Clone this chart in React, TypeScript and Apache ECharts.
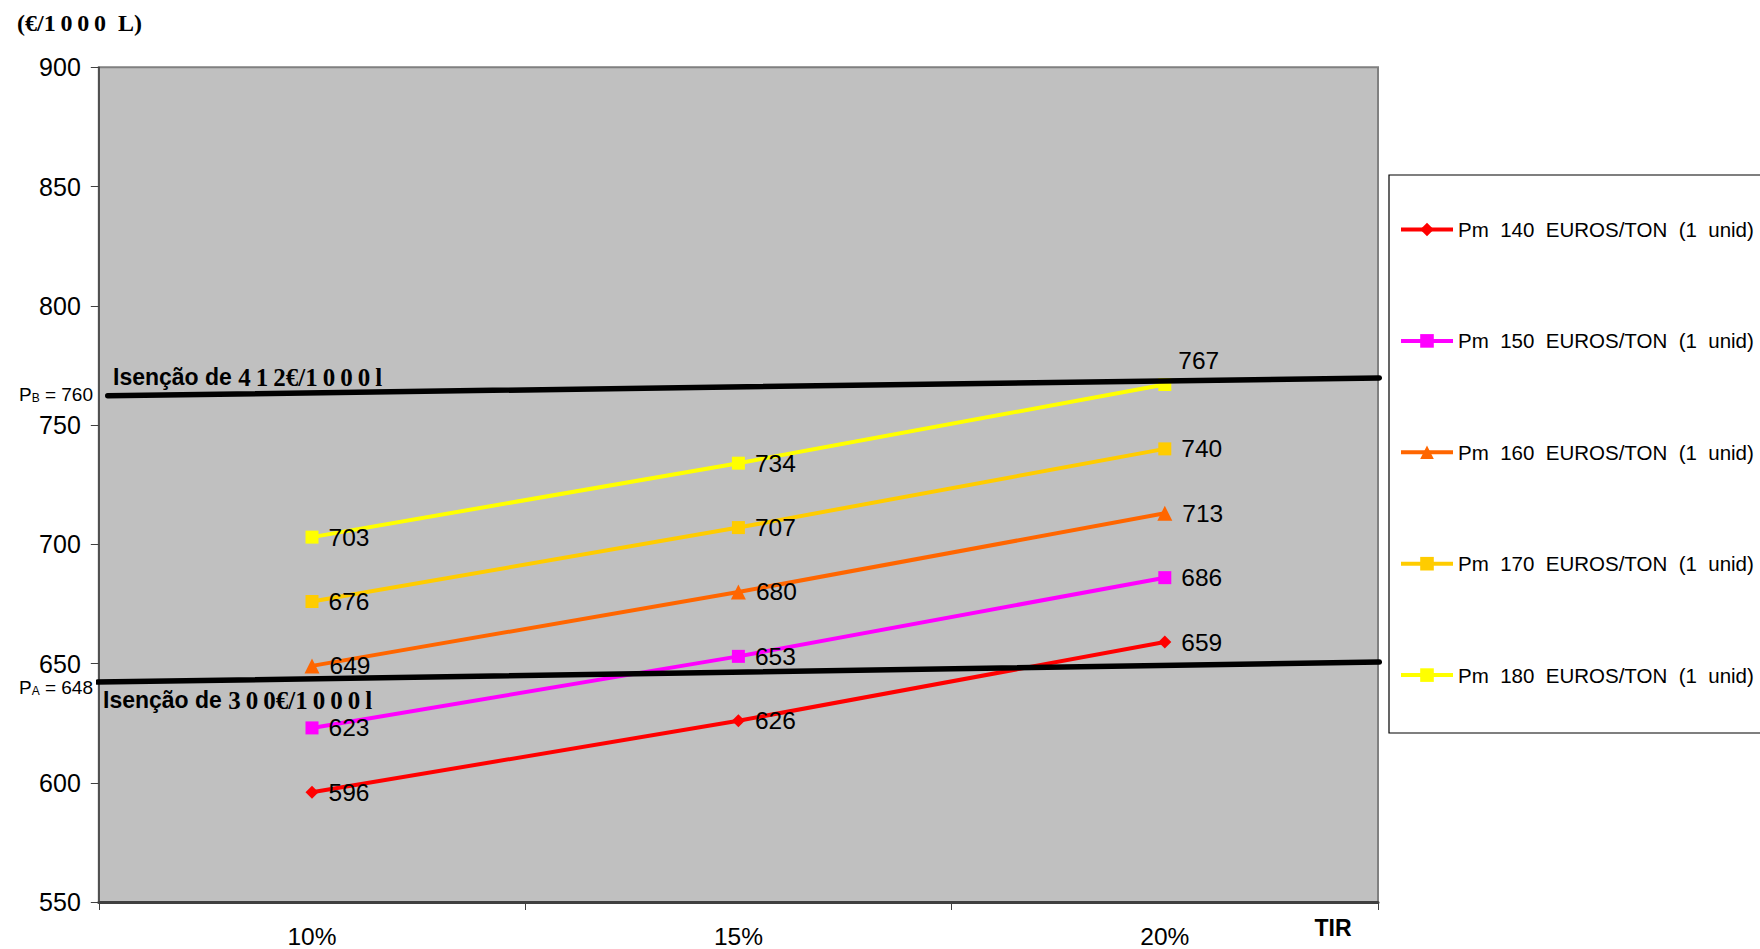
import React, { useEffect, useRef } from "react";
import * as echarts from "echarts";

const categories = ["10%", "15%", "20%"];
const seriesNames = [
  "Pm  140  EUROS/TON  (1  unid)",
  "Pm  150  EUROS/TON  (1  unid)",
  "Pm  160  EUROS/TON  (1  unid)",
  "Pm  170  EUROS/TON  (1  unid)",
  "Pm  180  EUROS/TON  (1  unid)",
];
const pm140 = [596, 626, 659];
const pm150 = [623, 653, 686];
const pm160 = [649, 680, 713];
const pm170 = [676, 707, 740];
const pm180 = [703, 734, 767];
const seriesValues = [pm140, pm150, pm160, pm170, pm180];
const seriesColors = ["#FF0000", "#FF00FF", "#FF6600", "#FFCC00", "#FFFF00"];
const seriesSymbols = ["diamond", "rect", "triangle", "rect", "rect"];

// reference lines (fraction of plot width, value)
const exemptionHigh = [
  [0.007, 762.3],
  [1.001, 769.7],
];
const exemptionLow = [
  [-0.001, 642.2],
  [1.001, 650.6],
];

const yTicks = { min: 550, max: 900, interval: 50 };

export default function App() {
  const ref = useRef<HTMLDivElement>(null);
  useEffect(() => {
    if (!ref.current) return;
    const chart = echarts.init(ref.current, null, { renderer: "svg" });
    const sans = "'Liberation Sans', Arial, sans-serif";
    const serif = "'Liberation Serif', 'Times New Roman', serif";

    const mainSeries = seriesValues.map((vals, i) => ({
      name: seriesNames[i],
      type: "line",
      xAxisIndex: 0,
      yAxisIndex: 0,
      data: vals.map((v, j) =>
        i === 4 && j === 2
          ? { value: v, label: { position: "top", distance: 5, offset: [34, 0] } }
          : v
      ),
      symbol: seriesSymbols[i],
      symbolSize: seriesSymbols[i] === "triangle" ? 15 : 13,
      itemStyle: { color: seriesColors[i] },
      lineStyle: { color: seriesColors[i], width: 4 },
      label: {
        show: true,
        position: "right",
        distance: 10,
        color: "#000",
        fontSize: 24.5,
        fontFamily: sans,
      },
      z: 3,
    }));

    const refSeries = [exemptionHigh, exemptionLow].map((d) => ({
      type: "line",
      xAxisIndex: 1,
      yAxisIndex: 0,
      data: d,
      symbol: "none",
      silent: true,
      clip: false,
      lineStyle: { color: "#000", width: 5.5, cap: "round" },
      z: 4,
    }));

    chart.setOption({
      animation: false,
      backgroundColor: "#fff",
      grid: {
        left: 98.8,
        right: 382,
        top: 67.3,
        bottom: 45.4,
        show: true,
        backgroundColor: "#C0C0C0",
        borderColor: "#808080",
        borderWidth: 2,
      },
      legend: {
        orient: "vertical",
        left: 1399,
        top: 219,
        padding: 0,
        itemWidth: 52,
        itemHeight: 17,
        itemGap: 90.4,
        data: seriesNames,
        lineStyle: { width: 4 },
        textStyle: { fontSize: 20.5, fontFamily: sans, color: "#000", lineHeight: 20 },
      },
      xAxis: [
        {
          type: "category",
          data: categories,
          boundaryGap: true,
          axisLine: { lineStyle: { color: "#404040", width: 3 } },
          axisTick: { show: true, length: 8, lineStyle: { color: "#404040", width: 1 } },
          axisLabel: { fontSize: 24.5, fontFamily: sans, color: "#000", margin: 22 },
          splitLine: { show: false },
        },
        {
          type: "value",
          min: 0,
          max: 1,
          show: false,
        },
      ],
      yAxis: {
        type: "value",
        min: yTicks.min,
        max: yTicks.max,
        interval: yTicks.interval,
        axisLine: { show: true, lineStyle: { color: "#404040", width: 1.5 } },
        axisTick: { show: true, length: 8, lineStyle: { color: "#404040", width: 1 } },
        axisLabel: { fontSize: 25, fontFamily: sans, color: "#000", margin: 18 },
        splitLine: { show: false },
      },
      graphic: [
        {
          type: "rect",
          shape: { x: 1389, y: 175, width: 420, height: 558 },
          style: { fill: "none", stroke: "#000", lineWidth: 1.2 },
          silent: true,
        },
        {
          type: "text",
          x: 17,
          y: 23,
          style: {
            text: "(€/1\u20090\u20090\u20090  L)",
            font: `bold 24px ${serif}`,
            fill: "#000",
            verticalAlign: "middle",
          },
        },
        {
          type: "text",
          x: 1333,
          y: 928,
          style: {
            text: "TIR",
            font: `bold 23px ${sans}`,
            fill: "#000",
            align: "center",
            verticalAlign: "middle",
          },
        },
        {
          type: "text",
          x: 113,
          y: 377,
          z: 10,
          style: {
            text: "{a|Isenção de }{b|4\u20091\u20092€/1\u20090\u20090\u20090\u2009l}",
            verticalAlign: "middle",
            rich: {
              a: { font: `bold 23px ${sans}`, fill: "#000" },
              b: { font: `bold 25px ${serif}`, fill: "#000" },
            },
          },
        },
        {
          type: "text",
          x: 103,
          y: 700,
          z: 10,
          style: {
            text: "{a|Isenção de }{b|3\u20090\u20090€/1\u20090\u20090\u20090\u2009l}",
            verticalAlign: "middle",
            rich: {
              a: { font: `bold 23px ${sans}`, fill: "#000" },
              b: { font: `bold 25px ${serif}`, fill: "#000" },
            },
          },
        },
        {
          type: "text",
          x: 93,
          y: 394,
          style: {
            text: "{p|P}{s|B}{p| = 760}",
            align: "right",
            verticalAlign: "middle",
            rich: {
              p: { font: `19px ${sans}`, fill: "#000" },
              s: { font: `12px ${sans}`, fill: "#000", padding: [8, 0, 0, 0] },
            },
          },
        },
        {
          type: "text",
          x: 93,
          y: 687,
          style: {
            text: "{p|P}{s|A}{p| = 648}",
            align: "right",
            verticalAlign: "middle",
            rich: {
              p: { font: `19px ${sans}`, fill: "#000" },
              s: { font: `12px ${sans}`, fill: "#000", padding: [8, 0, 0, 0] },
            },
          },
        },
      ],
      series: [...mainSeries, ...refSeries],
    });
    return () => chart.dispose();
  }, []);
  return (
    <div
      ref={ref}
      style={{ position: "fixed", left: 0, top: 0, width: 1760, height: 949 }}
    />
  );
}
